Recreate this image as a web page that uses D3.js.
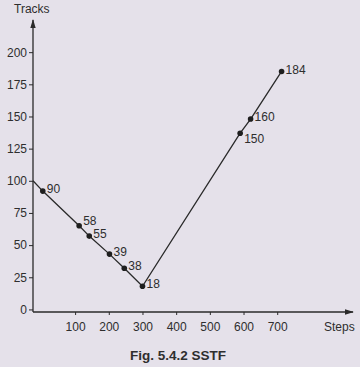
<!DOCTYPE html>
<html>
  <head>
    <meta charset="utf-8">
    <title>SSTF</title>
    <script src="https://d3js.org/d3.v7.min.js"></script>
    <style>
    body { margin: 0; background: #e5e1ea; }
    svg { font-family: "Liberation Sans", Arial, sans-serif; }
    .axis path, .axis line { stroke: #2a2a2a; }
    .axis text { fill: #2e2e2e; font-size: 12px; }
    </style>
  </head>
  <body>
    <script>
      // head movement
      const labels = ["", "90", "58", "55", "39", "38", "18", "150", "160", "184"];
      const steps  = [-25, 4, 112, 142, 202, 246, 300, 590, 621, 713];
      const tracks = [100, 92, 65, 57, 43, 32, 18, 137, 148, 185];

      const xTicks = [100, 200, 300, 400, 500, 600, 700];
      const yTicks = [0, 25, 50, 75, 100, 125, 150, 175, 200];

      const width = 360, height = 367;

      const svg = d3.select("body").append("svg")
          .attr("width", width)
          .attr("height", height);

      svg.append("rect")
          .attr("width", width)
          .attr("height", height)
          .attr("fill", "#e5e1ea");

      const x = d3.scaleLinear().domain([-25, 925]).range([33, 353]);
      const y = d3.scaleLinear().domain([-2, 225]).range([312, 20]);

      // arrow heads for the axes
      svg.append("defs").append("marker")
          .attr("id", "arrow")
          .attr("viewBox", "0 0 10 10")
          .attr("refX", 9).attr("refY", 5)
          .attr("markerWidth", 7).attr("markerHeight", 7)
          .attr("orient", "auto")
        .append("path")
          .attr("d", "M0,2 L10,5 L0,8 z")
          .attr("fill", "#2a2a2a");

      // x axis
      const gx = svg.append("g")
          .attr("class", "axis")
          .attr("transform", "translate(0," + y(-2) + ")")
          .call(d3.axisBottom(x).tickValues(xTicks).tickSize(3).tickPadding(7));
      gx.select(".domain").remove();
      gx.append("line")
          .attr("x1", x(-25)).attr("x2", x(925))
          .attr("stroke", "#2a2a2a").attr("stroke-width", 1.3)
          .attr("marker-end", "url(#arrow)");

      // y axis
      const gy = svg.append("g")
          .attr("class", "axis")
          .attr("transform", "translate(" + x(-25) + ",0)")
          .call(d3.axisLeft(y).tickValues(yTicks).tickSize(4).tickPadding(2));
      gy.select(".domain").remove();
      gy.append("line")
          .attr("y1", y(-2)).attr("y2", y(225))
          .attr("stroke", "#2a2a2a").attr("stroke-width", 1.3)
          .attr("marker-end", "url(#arrow)");

      svg.append("text")
          .attr("x", 14).attr("y", 13)
          .attr("font-size", 12).attr("fill", "#2e2e2e")
          .text("Tracks");

      svg.append("text")
          .attr("x", 324).attr("y", 331)
          .attr("font-size", 12).attr("fill", "#2e2e2e")
          .text("Steps");

      const pts = steps.map((s, i) => ({ s: s, t: tracks[i], label: labels[i] }));

      svg.append("path")
          .datum(pts)
          .attr("fill", "none")
          .attr("stroke", "#2a2a2a")
          .attr("stroke-width", 1.3)
          .attr("d", d3.line().x(d => x(d.s)).y(d => y(d.t)));

      const marks = pts.filter(d => d.label !== "");

      svg.selectAll("circle.pt")
        .data(marks)
        .join("circle")
          .attr("class", "pt")
          .attr("cx", d => x(d.s))
          .attr("cy", d => y(d.t))
          .attr("r", 2.8)
          .attr("fill", "#1e1e1e");

      // labels sit to the right; 150 drops under the line
      svg.selectAll("text.lbl")
        .data(marks)
        .join("text")
          .attr("class", "lbl")
          .attr("x", d => x(d.s) + 4)
          .attr("y", d => y(d.t) + (d.label === "150" ? 6 : d.label === "58" ? -5 : -2))
          .attr("dy", "0.35em")
          .attr("font-size", 12)
          .attr("fill", "#2e2e2e")
          .text(d => d.label);

      svg.append("text")
          .attr("x", 178).attr("y", 360)
          .attr("text-anchor", "middle")
          .attr("font-size", 13.5).attr("font-weight", "bold")
          .attr("fill", "#2e2e2e")
          .text("Fig. 5.4.2 SSTF");
    </script>
  </body>
</html>
